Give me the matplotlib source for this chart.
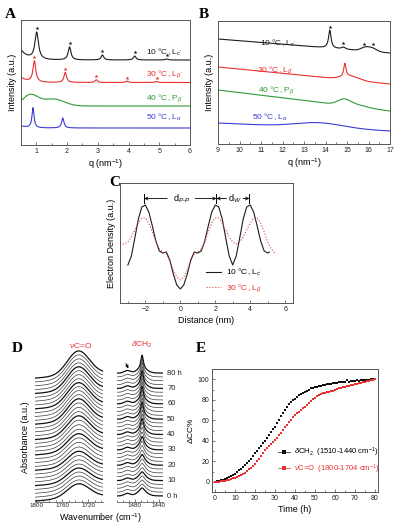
import numpy as np
import matplotlib
matplotlib.use("Agg")
import matplotlib.pyplot as plt
from matplotlib.lines import Line2D
from matplotlib.ticker import MultipleLocator

plt.rcParams['font.family'] = ['Liberation Sans', 'DejaVu Sans']
plt.rcParams['mathtext.fontset'] = 'custom'
plt.rcParams['mathtext.rm'] = 'Liberation Sans'
plt.rcParams['mathtext.it'] = 'Liberation Sans:italic'
plt.rcParams['mathtext.bf'] = 'Liberation Sans:bold'
plt.rcParams['axes.linewidth'] = 0.7
plt.rcParams['axes.edgecolor'] = '#555555'

W, H = 395, 530

# ---------------- data ----------------
temp_labels = ["10 °C, L$_{c'}$", "30 °C, L$_{\\beta'}$", "40 °C, P$_{\\beta'}$", "50 °C, L$_{\\alpha}$"]
temp_colors = ['#1c1c1c', '#e8302f', '#2f9a38', '#3b3bd2']

# panel A (small angle): baseline, low-q tail, sharp peaks (q, height, hwhm), broad humps (q, height, sigma)
saxs_base = [85, 62.5, 39, 17]
saxs_lowq = [10, 5, 0, 2]
saxs_peaks = [
    [(1.01, 27, 0.07), (2.08, 13, 0.055), (3.15, 5, 0.05), (4.2, 4, 0.05), (5.24, 1, 0.05)],
    [(0.935, 21, 0.055), (1.94, 10, 0.05), (2.95, 2.7, 0.05), (3.95, 1.4, 0.05), (4.91, 1, 0.05)],
    [],
    [(0.89, 20, 0.04), (1.86, 10, 0.045)],
]
saxs_humps = [[], [], [(0.8, 11, 0.25), (1.55, 7, 0.35)], []]
saxs_text_y = [93, 71, 47, 28]

# panel B (wide angle): linear baseline (start, end), sharp peaks, broad humps
waxs_base = [(105, 91), (77, 60), (54, 33), (21, 13)]
waxs_peaks = [
    [(14.2, 18, 0.07), (14.83, 2, 0.1)],
    [(14.9, 13, 0.06)],
    [],
    [],
]
waxs_humps = [
    [(15.85, 3.5, 0.2), (16.2, 3, 0.2)],
    [(15.15, 4, 0.4)],
    [(14.85, 5, 0.28), (15.35, 2.5, 0.5)],
    [(13.7, 5, 1.1)],
]
waxs_stars = [14.2, 14.83, 15.8, 16.2]
waxs_text = [(10.96, 101), (10.8, 74), (10.87, 54), (10.6, 27)]

# panel C electron density
dist_10 = [-3.0, -2.8, -2.6, -2.4, -2.2, -2.0, -1.8, -1.6, -1.4, -1.2, -1.0, -0.8, -0.6, -0.4, -0.2,
           0.0, 0.2, 0.4, 0.6, 0.8, 1.0, 1.2, 1.4, 1.6, 1.8, 2.0, 2.2, 2.4, 2.6, 2.8, 3.0,
           3.2, 3.4, 3.6, 3.8, 4.0, 4.2, 4.4, 4.6, 4.8, 5.0, 5.1]
rho_10 = [38, 47, 65, 84, 96, 98, 91, 77, 62, 52, 50, 51, 43, 29, 18,
          14, 18, 29, 43, 51, 50, 52, 62, 77, 91, 98, 96, 84, 65, 47, 38,
          47, 65, 84, 96, 98, 91, 77, 62, 52, 50, 51]
dist_30 = [-3.3, -3.2, -3.0, -2.8, -2.6, -2.4, -2.2, -2.0, -1.8, -1.6, -1.4, -1.2, -1.0, -0.8, -0.6, -0.4, -0.2,
           0.0, 0.2, 0.4, 0.6, 0.8, 1.0, 1.2, 1.4, 1.6, 1.8, 2.0, 2.2, 2.4, 2.6, 2.8, 3.0,
           3.2, 3.4, 3.6, 3.8, 4.0, 4.2, 4.4, 4.6, 4.8, 5.0, 5.2, 5.4]
rho_30 = [59, 59, 61, 66, 73, 80, 85, 85, 80, 71, 61, 54, 51, 49, 42, 33, 26,
          23, 26, 33, 42, 49, 51, 54, 61, 71, 80, 85, 85, 80, 73, 66, 61,
          59, 61, 66, 73, 80, 85, 85, 80, 71, 61, 54, 50]

# panel E kinetics (h, %)
time_h = list(range(0, 81))
cc_ch2 = [0, 0.3, 0.8, 1.3, 2.0, 2.8, 3.6, 4.6, 5.6, 6.8,
          8.0, 9.4, 11.0, 12.6, 14.3, 16.0, 18.0, 20.0, 22.0, 25.0,
          28.0, 30.0, 32.5, 35.0, 37.5, 40.0, 43.0, 46.0, 48.5, 51.0,
          53.5, 57.0, 60.5, 64.0, 67.0, 70.0, 73.0, 75.5, 77.5, 79.5,
          81.0, 83.0, 84.5, 85.5, 86.5, 88.0, 89.0, 90.0, 91.0, 91.5,
          92.0, 92.5, 93.0, 93.5, 94.0, 94.5, 95.0, 95.5, 95.5, 96.0,
          96.5, 96.5, 97.0, 97.0, 97.0, 97.5, 99.0, 97.5, 98.0, 98.5,
          98.5, 99.0, 98.5, 99.0, 99.0, 99.5, 99.5, 99.5, 100.0, 100.0,
          100.0]
cc_co = [0, 0, 0.2, 0.5, 0.8, 1.2, 1.6, 2.0, 2.6, 3.2,
         4.0, 4.8, 5.7, 6.7, 7.8, 9.0, 10.5, 12.0, 13.5, 15.5,
         17.5, 20.0, 22.5, 25.0, 28.0, 30.5, 32.5, 34.5, 36.5, 38.5,
         40.5, 43.0, 45.5, 48.0, 50.5, 53.0, 55.5, 58.0, 60.5, 63.0,
         65.5, 67.0, 68.5, 70.0, 71.5, 73.0, 75.0, 77.0, 79.0, 80.5,
         82.0, 83.5, 84.5, 85.5, 86.5, 87.0, 87.5, 88.0, 88.5, 89.0,
         89.5, 90.5, 91.0, 91.5, 92.0, 92.5, 93.0, 93.5, 94.0, 94.5,
         95.0, 95.5, 96.0, 96.5, 97.0, 97.5, 98.0, 98.5, 99.0, 99.5,
         100.0]

# panel D spectra every 2.5 h
spec_times = np.arange(0, 80.1, 2.5)
spec_labels = ['0 h', '10', '20', '30', '40', '50', '60', '70', '80 h']


def lorentz(x, c, h, w):
    return h * w ** 2 / ((x - c) ** 2 + w ** 2)


def gauss(x, c, h, s):
    return h * np.exp(-(x - c) ** 2 / (2 * s ** 2))


def box(l, t, r, b):
    return [l / W, 1 - b / H, (r - l) / W, (b - t) / H]


def style(ax, xmaj, xmin, ymaj=None, ymin=None):
    ax.xaxis.set_major_locator(MultipleLocator(xmaj))
    ax.xaxis.set_minor_locator(MultipleLocator(xmin))
    if ymaj is None:
        ax.set_yticks([])
    else:
        ax.yaxis.set_major_locator(MultipleLocator(ymaj))
        ax.yaxis.set_minor_locator(MultipleLocator(ymin))
    ax.tick_params(which='both', direction='in', labelsize=5, width=0.5, pad=2,
                   colors='#444444', labelcolor='#222222')
    ax.tick_params(which='major', length=2.5)
    ax.tick_params(which='minor', length=1.5)


fig = plt.figure(figsize=(W / 100, H / 100), dpi=100)
letter_kw = dict(fontsize=11, fontweight='bold', family='Liberation Serif', va='center')
fig.text(5 / W, 1 - 15 / H, 'A', **letter_kw)
fig.text(199 / W, 1 - 15 / H, 'B', **letter_kw)
fig.text(109 / W, 1 - 183 / H, 'C', **letter_kw)
fig.text(12 / W, 1 - 348 / H, 'D', **letter_kw)
fig.text(196 / W, 1 - 349 / H, 'E', **letter_kw)

# ---------------- A ----------------
axA = fig.add_axes(box(21, 20, 190, 145))
q = np.linspace(0.5, 6, 1200)
for i in range(4):
    y = saxs_base[i] + saxs_lowq[i] * np.exp(-(q - 0.5) / 0.22)
    for c, h, w in saxs_peaks[i]:
        y = y + lorentz(q, c, h, w)
    for c, h, s in saxs_humps[i]:
        y = y + gauss(q, c, h, s)
    axA.plot(q, y, color=temp_colors[i], lw=0.8)
    if i < 2:
        sx = [p[0] for p in saxs_peaks[i]]
        sy = np.interp(sx, q, y) + 3.5
        axA.plot(sx, sy, ls='none', marker='*', ms=3, color=temp_colors[i], mew=0)
    axA.text(4.58, saxs_text_y[i], temp_labels[i], color=temp_colors[i], fontsize=6, va='center')
axA.set_xlim(0.5, 6)
axA.set_ylim(0, 125)
style(axA, 1, 0.5)
axA.set_xlabel('q (nm$^{-1}$)', fontsize=6.5, labelpad=2)
axA.set_ylabel('Intensity (a.u.)', fontsize=6.5, labelpad=3)

# ---------------- B ----------------
axB = fig.add_axes(box(218, 21, 390, 144))
qb = np.linspace(9, 17, 1200)
for i in range(4):
    y0, y1 = waxs_base[i]
    y = y0 + (y1 - y0) * (qb - 9) / 8
    for c, h, w in waxs_peaks[i]:
        y = y + lorentz(qb, c, h, w)
    for c, h, s in waxs_humps[i]:
        y = y + gauss(qb, c, h, s)
    axB.plot(qb, y, color=temp_colors[i], lw=0.8)
    if i == 0:
        sy = np.interp(waxs_stars, qb, y) + 3.5
        axB.plot(waxs_stars, sy, ls='none', marker='*', ms=3, color=temp_colors[0], mew=0)
    axB.text(waxs_text[i][0], waxs_text[i][1], temp_labels[i], color=temp_colors[i], fontsize=6, va='center')
axB.set_xlim(9, 17)
axB.set_ylim(0, 123)
style(axB, 1, 0.5)
axB.set_xlabel('q (nm$^{-1}$)', fontsize=6.5, labelpad=2)
axB.set_ylabel('Intensity (a.u.)', fontsize=6.5, labelpad=3)

# ---------------- C ----------------
axC = fig.add_axes(box(120, 183, 293, 303))
axC.plot(dist_10, rho_10, color='#1c1c1c', lw=0.8, label=temp_labels[0])
axC.plot(dist_30, rho_30, color='#e8403f', lw=0.8, ls=':', label=temp_labels[1])
for xb in [-2.07, 2.07, 3.95]:
    axC.plot([xb, xb], [100, 109], color='k', lw=0.7)
arr = dict(arrowstyle='->', lw=0.6, color='k', mutation_scale=5, shrinkA=0, shrinkB=0)
axC.annotate('', xy=(-2.07, 104.5), xytext=(-0.75, 104.5), arrowprops=arr)
axC.annotate('', xy=(2.07, 104.5), xytext=(0.85, 104.5), arrowprops=arr)
axC.annotate('', xy=(2.07, 104.5), xytext=(2.65, 104.5), arrowprops=arr)
axC.annotate('', xy=(3.95, 104.5), xytext=(3.6, 104.5), arrowprops=arr)
axC.text(0.06, 104.5, 'd$_{P\u2010P}$', fontsize=6.5, ha='center', va='center')
axC.text(3.13, 104.5, 'd$_W$', fontsize=6.5, ha='center', va='center')
legC = axC.legend(loc='upper left', bbox_to_anchor=(0.48, 0.33), frameon=False, fontsize=6,
                  handlelength=1.8, handletextpad=0.6, labelspacing=0.5, borderaxespad=0)
legC.get_texts()[1].set_color('#e8302f')
axC.set_xlim(-3.45, 6.45)
axC.set_ylim(0, 120)
style(axC, 2, 1)
axC.set_xlabel('Distance (nm)', fontsize=6.5, labelpad=2)
axC.set_ylabel('Electron Density (a.u.)', fontsize=6.5, labelpad=3)

# ---------------- D ----------------
axD1 = fig.add_axes(box(35, 335, 103, 502))
axD2 = fig.add_axes(box(117, 335, 163, 502))
w1 = np.linspace(1802, 1697, 400)
w2 = np.linspace(1510, 1433, 600)
for i, t in enumerate(spec_times):
    k = int(round(t))
    off = 6 + 3.84 * i
    h_co = 14 + 10 * cc_co[k] / 100
    y1 = off - 5 * (w1 - 1697) / 105 + gauss(w1, 1735, h_co, 17)
    h_ch = 4 + 10 * cc_ch2[k] / 100
    wid = 5 - 2.5 * cc_ch2[k] / 100
    y2 = off + gauss(w2, 1468, 4, 8) + lorentz(w2, 1468, h_ch, wid) + gauss(w2, 1493, 2.5, 5)
    bold = (i % 4 == 0)
    lw = 0.9 if bold else 0.5
    col = '#111111' if bold else '#3a3a3a'
    axD1.plot(w1, y1, color=col, lw=lw)
    axD2.plot(w2, y2, color=col, lw=lw)
    if bold:
        axD2.text(1426, off, spec_labels[i // 4], fontsize=5.5, va='center', ha='left',
                  color='#222222', clip_on=False)
for ax, xl in [(axD1, (1802, 1697)), (axD2, (1510, 1433))]:
    ax.set_xlim(*xl)
    ax.set_ylim(0, 167)
    for s in ['left', 'right', 'top']:
        ax.spines[s].set_visible(False)
    ax.spines['bottom'].set_color('#777777')
    style(ax, 40, 10)
    ax.tick_params(labelsize=4.5, pad=1)
axD1.set_xticks([1800, 1760, 1720])
axD2.set_xticks([1480, 1440])
axD1.text(1731, 157, '$\\nu$C=O', color='#e8302f', fontsize=6, ha='center', va='center')
axD2.text(1468, 157, '$\\delta$CH$_2$', color='#e8302f', fontsize=6, ha='center', va='center')
axD2.annotate('', xy=(1489, 131), xytext=(1497, 141),
              arrowprops=dict(arrowstyle='-|>', lw=0.7, color='k', mutation_scale=4))
fig.text(25 / W, 1 - 437 / H, 'Absorbance (a.u.)', fontsize=6.5, rotation=90, ha='center', va='center')
fig.text(100 / W, 1 - 518 / H, 'Wavenumber (cm$^{-1}$)', fontsize=6.5, ha='center', va='center')

# ---------------- E ----------------
axE = fig.add_axes(box(212, 369, 378, 492))
axE.plot(time_h, cc_ch2, ls='none', marker='s', ms=2, mew=0, color='#111111')
axE.plot(time_h, cc_co, ls='none', marker='s', ms=2, mew=0, color='#e8302f')
handles = [Line2D([], [], color='#111111', lw=0.5, marker='s', ms=2.5, mew=0),
           Line2D([], [], color='#e8302f', lw=0.5, marker='s', ms=2.5, mew=0)]
legE = axE.legend(handles, ['$\\delta$CH$_2$  (1510-1440 cm$^{-1}$)', '$\\nu$C=O  (1800-1704 cm$^{-1}$)'],
                  loc='upper left', bbox_to_anchor=(0.38, 0.4), frameon=False, fontsize=5.5,
                  handlelength=1.6, handletextpad=0.5, labelspacing=0.4, borderaxespad=0)
legE.get_texts()[1].set_color('#e8302f')
axE.set_xlim(-1.5, 81.5)
axE.set_ylim(-10, 110)
style(axE, 10, 5, 20, 10)
axE.set_xlabel('Time (h)', fontsize=6.5, labelpad=2)
axE.set_ylabel('$\\Delta$CC%', fontsize=6, labelpad=2)

fig.savefig('out.png', dpi=100)
